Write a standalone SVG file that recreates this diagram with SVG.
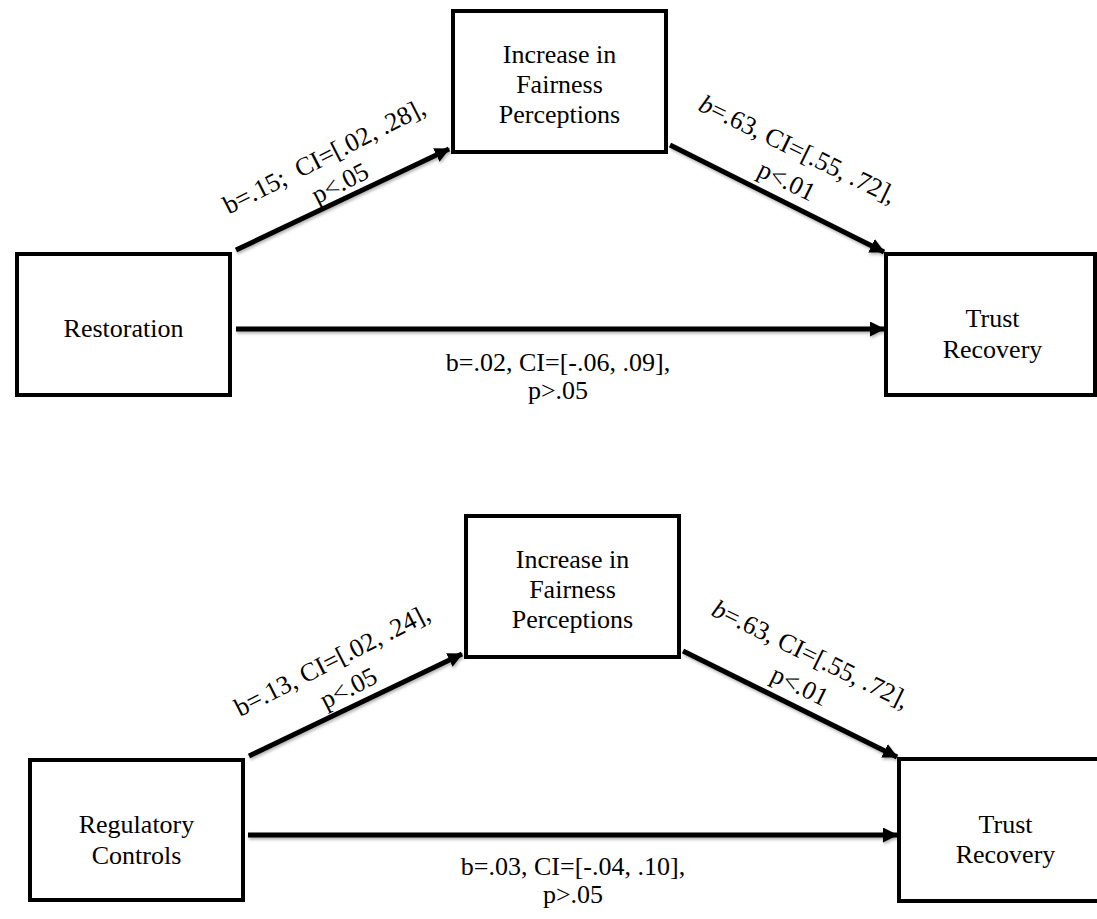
<svg xmlns="http://www.w3.org/2000/svg" width="1097" height="919" viewBox="0 0 1097 919">
  <style>
    .box { fill: #ffffff; stroke: #000000; stroke-width: 4; }
    .lbl { font-family: "Liberation Serif", "Times New Roman", serif; font-size: 26px; fill: #000000; }
    .mid { text-anchor: middle; }
    .edge { stroke: #000000; stroke-width: 5; fill: none; marker-end: url(#arrow); }
  </style>
  <defs>
    <marker id="arrow" markerUnits="userSpaceOnUse" markerWidth="15" markerHeight="15" refX="14" refY="7.5" orient="auto">
      <path d="M0,0 L15,7.5 L0,15 Z" fill="#000000"/>
    </marker>
    <filter id="shade" x="-5%" y="-20%" width="110%" height="140%">
      <feDropShadow dx="1" dy="2" stdDeviation="1.5" flood-color="#000000" flood-opacity="0.3"/>
    </filter>
  </defs>
  <rect width="1097" height="919" fill="#ffffff"/>

  <!-- connectors -->
  <g id="connectors" filter="url(#shade)">
    <!-- upper model -->
    <line class="edge" x1="236" y1="250" x2="449" y2="149"/>
    <line class="edge" x1="670" y1="145" x2="884" y2="252"/>
    <line class="edge" x1="236" y1="329" x2="884" y2="329"/>
    <!-- lower model -->
    <line class="edge" x1="249" y1="756" x2="462" y2="654"/>
    <line class="edge" x1="683" y1="651" x2="897" y2="757"/>
    <line class="edge" x1="248" y1="835" x2="897" y2="835"/>
  </g>

  <!-- path coefficients -->
  <g id="labels">
    <text class="lbl mid" xml:space="preserve" transform="translate(328,164) rotate(-27)"><tspan x="0" y="0">b=.15;  CI=[.02, .28],</tspan><tspan x="2" y="31">p&lt;.05</tspan></text>
    <text class="lbl mid" transform="translate(794,157) rotate(26)"><tspan x="0" y="0"><tspan font-style="italic">b</tspan>=.63, CI=[.55, .72],</tspan><tspan x="4" y="33">p&lt;.01</tspan></text>
    <text class="lbl mid"><tspan x="558" y="371">b=.02, CI=[-.06, .09],</tspan><tspan x="558" y="399">p&gt;.05</tspan></text>

    <text class="lbl mid" transform="translate(336,668) rotate(-27)"><tspan x="0" y="0">b=.13, CI=[.02, .24],</tspan><tspan x="2" y="32">p&lt;.05</tspan></text>
    <text class="lbl mid" transform="translate(807,662) rotate(26)"><tspan x="0" y="0"><tspan font-style="italic">b</tspan>=.63, CI=[.55, .72],</tspan><tspan x="4" y="33">p&lt;.01</tspan></text>
    <text class="lbl mid"><tspan x="573" y="875">b=.03, CI=[-.04, .10],</tspan><tspan x="573" y="903">p&gt;.05</tspan></text>
  </g>

  <!-- upper model nodes -->
  <g id="restoration">
    <rect class="box" x="17" y="254" width="213" height="141"/>
    <text class="lbl mid" x="123.5" y="337">Restoration</text>
  </g>
  <g id="fairness-top">
    <rect class="box" x="453" y="11" width="213" height="141"/>
    <text class="lbl mid"><tspan x="559.5" y="63">Increase in</tspan><tspan x="559.5" y="93">Fairness</tspan><tspan x="559.5" y="123">Perceptions</tspan></text>
  </g>
  <g id="trust-top">
    <rect class="box" x="886" y="254" width="209" height="141"/>
    <text class="lbl mid"><tspan x="992.5" y="327">Trust</tspan><tspan x="992.5" y="358">Recovery</tspan></text>
  </g>

  <!-- lower model nodes -->
  <g id="regulatory">
    <rect class="box" x="30" y="760" width="213" height="140"/>
    <text class="lbl mid"><tspan x="136.5" y="833">Regulatory</tspan><tspan x="136.5" y="864">Controls</tspan></text>
  </g>
  <g id="fairness-bottom">
    <rect class="box" x="466" y="516" width="213" height="141"/>
    <text class="lbl mid"><tspan x="572.5" y="568">Increase in</tspan><tspan x="572.5" y="598">Fairness</tspan><tspan x="572.5" y="628">Perceptions</tspan></text>
  </g>
  <g id="trust-bottom">
    <rect class="box" x="899" y="759" width="213" height="142"/>
    <text class="lbl mid"><tspan x="1005.5" y="833">Trust</tspan><tspan x="1005.5" y="863">Recovery</tspan></text>
  </g>
</svg>
